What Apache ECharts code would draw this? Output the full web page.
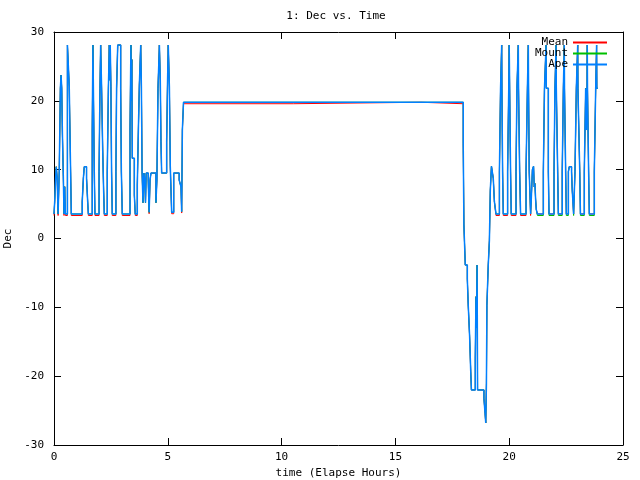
<!DOCTYPE html>
<html>
<head>
<meta charset="utf-8">
<title>1: Dec vs. Time</title>
<script src="https://cdn.jsdelivr.net/npm/echarts@6/dist/echarts.min.js"></script>
<style>
  html, body { margin: 0; padding: 0; background: #fff; }
  #decChart { width: 640px; height: 480px; }
</style>
</head>
<body>
<div id="decChart"></div>
<script>
// 时间轴 (Elapse Hours) - each entry is where a value changes
var hours = [
  0.00, 0.03, 0.07, 0.10, 0.14, 0.18, 0.23, 0.28, 0.31, 0.34,
  0.37, 0.41, 0.44, 0.47, 0.50, 0.59, 0.67, 0.73, 0.76, 1.24,
  1.29, 1.33, 1.43, 1.48, 1.51, 1.68, 1.71, 1.73, 1.77, 1.80,
  1.98, 2.02, 2.05, 2.09, 2.14, 2.18, 2.21, 2.34, 2.39, 2.43,
  2.45, 2.47, 2.50, 2.53, 2.56, 2.72, 2.75, 2.80, 2.93, 2.96,
  3.00, 3.34, 3.38, 3.40, 3.42, 3.44, 3.53, 3.57, 3.66, 3.71,
  3.75, 3.81, 3.84, 3.87, 3.91, 3.95, 3.99, 4.02, 4.05, 4.14,
  4.18, 4.22, 4.26, 4.48, 4.52, 4.57, 4.63, 4.67, 4.70, 4.73,
  4.95, 4.99, 5.02, 5.07, 5.11, 5.17, 5.26, 5.50, 5.58, 5.61,
  5.64, 5.69, 10.51, 16.12, 17.98, 18.01, 18.07, 18.16, 18.20, 18.26,
  18.31, 18.34, 18.51, 18.54, 18.56, 18.59, 18.61, 18.89, 18.94, 18.97,
  19.00, 19.02, 19.08, 19.13, 19.17, 19.22, 19.30, 19.35, 19.42, 19.57,
  19.62, 19.67, 19.68, 19.71, 19.74, 19.93, 19.98, 20.00, 20.02, 20.06,
  20.09, 20.30, 20.34, 20.40, 20.41, 20.46, 20.50, 20.74, 20.80, 20.84,
  20.85, 20.88, 20.94, 20.97, 21.02, 21.07, 21.10, 21.13, 21.16, 21.19,
  21.24, 21.50, 21.55, 21.62, 21.63, 21.72, 21.75, 21.97, 22.01, 22.06,
  22.07, 22.13, 22.16, 22.33, 22.38, 22.42, 22.43, 22.48, 22.51, 22.60,
  22.64, 22.74, 22.77, 22.80, 22.83, 22.89, 22.95, 23.01, 23.02, 23.10,
  23.13, 23.30, 23.36, 23.39, 23.42, 23.43, 23.44, 23.49, 23.52, 23.74,
  23.80, 23.84, 23.85, 23.89
];

// Mean
var meanDec = [
  3.34, 5.35, 8.74, 10.43, 8.74, 3.34, 9.70, 21.82, 23.75, 21.82,
  15.18, 8.98, 3.34, 7.53, 3.34, 28.11, 22.06, 9.70, 3.34, 5.35,
  8.74, 10.43, 8.74, 5.35, 3.34, 15.76, 28.11, 22.06, 9.70, 3.34,
  9.70, 21.82, 28.11, 22.06, 12.85, 7.05, 3.34, 9.70, 21.82, 28.11,
  23.00, 28.11, 22.06, 9.70, 3.34, 9.70, 21.82, 28.11, 21.82, 9.70,
  3.34, 15.76, 28.11, 20.00, 26.00, 11.65, 6.32, 3.34, 7.77, 16.23,
  22.30, 28.11, 22.06, 9.70, 5.20, 9.50, 8.50, 5.20, 9.50, 8.50,
  3.60, 8.50, 9.50, 5.20, 8.50, 21.82, 28.11, 23.00, 14.06, 9.50,
  14.00, 23.00, 28.11, 22.06, 10.43, 3.60, 9.50, 8.50, 7.50, 3.70,
  15.76, 19.58, 19.79, 19.58, 13.83, 1.96, -3.85, -5.89, -9.66, -14.17,
  -19.35, -22.00, -17.40, -8.45, -13.00, -3.85, -22.00, -23.20, -25.40, -26.80,
  -21.00, -9.70, -3.85, -0.30, 7.00, 10.50, 8.74, 5.35, 3.34, 9.70,
  21.82, 28.11, 21.82, 9.70, 3.34, 9.70, 21.82, 28.11, 21.82, 9.70,
  3.34, 9.70, 21.82, 28.11, 21.82, 9.70, 3.34, 9.70, 21.82, 28.11,
  21.82, 9.70, 3.34, 5.70, 10.00, 10.50, 7.50, 8.00, 5.70, 4.20,
  3.56, 9.70, 21.82, 28.11, 21.82, 9.70, 3.56, 9.70, 21.82, 28.11,
  21.82, 9.70, 3.56, 9.70, 21.82, 28.11, 21.82, 9.70, 3.56, 9.70,
  10.43, 9.70, 7.00, 5.35, 3.56, 9.70, 21.82, 28.11, 21.82, 9.70,
  3.56, 9.70, 21.82, 15.76, 21.82, 28.11, 21.82, 9.70, 3.56, 9.70,
  21.82, 28.11, 21.82, 21.82
];

// Mount
var mountDec = [
  3.56, 5.35, 8.74, 10.43, 8.74, 3.56, 9.70, 21.82, 23.75, 21.82,
  15.18, 8.98, 3.56, 7.53, 3.56, 28.11, 22.06, 9.70, 3.56, 5.35,
  8.74, 10.43, 8.74, 5.35, 3.56, 15.76, 28.11, 22.06, 9.70, 3.56,
  9.70, 21.82, 28.11, 22.06, 12.85, 7.05, 3.56, 9.70, 21.82, 28.11,
  23.00, 28.11, 22.06, 9.70, 3.56, 9.70, 21.82, 28.11, 21.82, 9.70,
  3.56, 15.76, 28.11, 20.00, 26.00, 11.65, 6.32, 3.56, 7.77, 16.23,
  22.30, 28.11, 22.06, 9.70, 5.20, 9.50, 8.50, 5.20, 9.50, 8.50,
  3.80, 8.50, 9.50, 5.20, 8.50, 21.82, 28.11, 23.00, 14.06, 9.50,
  14.00, 23.00, 28.11, 22.06, 10.43, 3.80, 9.50, 8.50, 7.50, 3.90,
  15.76, 19.79, 19.79, 19.79, 13.83, 1.96, -3.85, -5.89, -9.66, -14.17,
  -19.35, -22.00, -17.40, -8.45, -13.00, -3.85, -22.00, -23.20, -25.40, -26.80,
  -21.00, -9.70, -3.85, -0.30, 7.00, 10.50, 8.74, 5.35, 3.56, 9.70,
  21.82, 28.11, 21.82, 9.70, 3.56, 9.70, 21.82, 28.11, 21.82, 9.70,
  3.56, 9.70, 21.82, 28.11, 21.82, 9.70, 3.56, 9.70, 21.82, 28.11,
  21.82, 9.70, 3.56, 5.70, 10.00, 10.50, 7.50, 8.00, 5.70, 4.20,
  3.34, 9.70, 21.82, 28.11, 21.82, 9.70, 3.34, 9.70, 21.82, 28.11,
  21.82, 9.70, 3.34, 9.70, 21.82, 28.11, 21.82, 9.70, 3.34, 9.70,
  10.43, 9.70, 7.00, 5.35, 3.34, 9.70, 21.82, 28.11, 21.82, 9.70,
  3.34, 9.70, 21.82, 15.76, 21.82, 28.11, 21.82, 9.70, 3.34, 9.70,
  21.82, 28.11, 21.82, 21.82
];

// Ape
var apeDec = [
  3.56, 5.35, 8.74, 10.43, 8.74, 3.56, 9.70, 21.82, 23.75, 21.82,
  15.18, 8.98, 3.56, 7.53, 3.56, 28.11, 22.06, 9.70, 3.56, 5.35,
  8.74, 10.43, 8.74, 5.35, 3.56, 15.76, 28.11, 22.06, 9.70, 3.56,
  9.70, 21.82, 28.11, 22.06, 12.85, 7.05, 3.56, 9.70, 21.82, 28.11,
  23.00, 28.11, 22.06, 9.70, 3.56, 9.70, 21.82, 28.11, 21.82, 9.70,
  3.56, 15.76, 28.11, 20.00, 26.00, 11.65, 6.32, 3.56, 7.77, 16.23,
  22.30, 28.11, 22.06, 9.70, 5.20, 9.50, 8.50, 5.20, 9.50, 8.50,
  3.80, 8.50, 9.50, 5.20, 8.50, 21.82, 28.11, 23.00, 14.06, 9.50,
  14.00, 23.00, 28.11, 22.06, 10.43, 3.80, 9.50, 8.50, 7.50, 3.90,
  15.76, 19.79, 19.79, 19.79, 13.83, 1.96, -3.85, -5.89, -9.66, -14.17,
  -19.35, -22.00, -17.40, -8.45, -13.00, -3.85, -22.00, -23.20, -25.40, -26.80,
  -21.00, -9.70, -3.85, -0.30, 7.00, 10.50, 8.74, 5.35, 3.56, 9.70,
  21.82, 28.11, 21.82, 9.70, 3.56, 9.70, 21.82, 28.11, 21.82, 9.70,
  3.56, 9.70, 21.82, 28.11, 21.82, 9.70, 3.56, 9.70, 21.82, 28.11,
  21.82, 9.70, 3.56, 5.70, 10.00, 10.50, 7.50, 8.00, 5.70, 4.20,
  3.56, 9.70, 21.82, 28.11, 21.82, 9.70, 3.56, 9.70, 21.82, 28.11,
  21.82, 9.70, 3.56, 9.70, 21.82, 28.11, 21.82, 9.70, 3.56, 9.70,
  10.43, 9.70, 7.00, 5.35, 3.56, 9.70, 21.82, 28.11, 21.82, 9.70,
  3.56, 9.70, 21.82, 15.76, 21.82, 28.11, 21.82, 9.70, 3.56, 9.70,
  21.82, 28.11, 21.82, 21.82
];

var seriesNames = ['Mean', 'Mount', 'Ape'];
var seriesColors = ['#ff0000', '#00c000', '#0080ff'];
var seriesWidths = [1, 1, 1.5];
var xTicks = { min: 0, max: 25, step: 5 };
var yTicks = { min: -30, max: 30, step: 10 };

var monoFont = 'DejaVu Sans Mono';

// 拼成阶梯 [x, y]：值保持到下一个时间点再跳变
function toSteps(values) {
  var out = [[hours[0], values[0]]];
  for (var i = 1; i < hours.length; i++) {
    out.push([hours[i], values[i - 1]]);
    out.push([hours[i], values[i]]);
  }
  return out;
}

function makeAxis(pos, range, isX, showLabel) {
  return {
    type: 'value',
    position: pos,
    min: range.min,
    max: range.max,
    interval: range.step,
    splitLine: { show: false },
    axisLine: { show: true, onZero: false, lineStyle: { color: '#000', width: 1 } },
    axisTick: { show: true, inside: true, length: 7, lineStyle: { color: '#000' } },
    axisLabel: {
      show: showLabel,
      color: '#000',
      fontFamily: monoFont,
      fontSize: 11,
      margin: isX ? 7 : 10
    }
  };
}

var xBottom = makeAxis('bottom', xTicks, true, true);
xBottom.name = 'time (Elapse Hours)';
xBottom.nameLocation = 'middle';
xBottom.nameGap = 22;
xBottom.nameTextStyle = { color: '#000', fontFamily: monoFont, fontSize: 11 };

var yLeft = makeAxis('left', yTicks, false, true);
yLeft.name = 'Dec';
yLeft.nameLocation = 'middle';
yLeft.nameRotate = 90;
yLeft.nameGap = 37;
yLeft.nameTextStyle = { color: '#000', fontFamily: monoFont, fontSize: 11 };

var decSeries = [meanDec, mountDec, apeDec].map(function (vals, idx) {
  return {
    name: seriesNames[idx],
    type: 'line',
    showSymbol: false,
    symbol: 'none',
    sampling: null,
    xAxisIndex: 0,
    yAxisIndex: 0,
    data: toSteps(vals),
    lineStyle: { color: seriesColors[idx], width: seriesWidths[idx] },
    itemStyle: { color: seriesColors[idx] },
    emphasis: { disabled: true }
  };
});

var chart = echarts.init(document.getElementById('decChart'), null, { renderer: 'canvas' });
chart.setOption({
  animation: false,
  backgroundColor: '#fff',
  title: {
    text: '1: Dec vs. Time',
    left: 336,
    top: 11,
    padding: 0,
    textAlign: 'center',
    textStyle: { color: '#000', fontFamily: monoFont, fontSize: 11, fontWeight: 'normal' }
  },
  legend: {
    orient: 'vertical',
    align: 'right',
    right: 33,
    top: 37,
    padding: 0,
    itemGap: 0,
    itemWidth: 34,
    itemHeight: 2,
    icon: 'rect',
    selectedMode: false,
    data: seriesNames,
    textStyle: { color: '#000', fontFamily: monoFont, fontSize: 11, lineHeight: 11 }
  },
  grid: { left: 54, right: 17, top: 32, bottom: 35, outerBoundsMode: 'none', containLabel: false },
  xAxis: [xBottom, makeAxis('top', xTicks, true, false)],
  yAxis: [yLeft, makeAxis('right', yTicks, false, false)],
  series: decSeries
});
</script>
</body>
</html>
